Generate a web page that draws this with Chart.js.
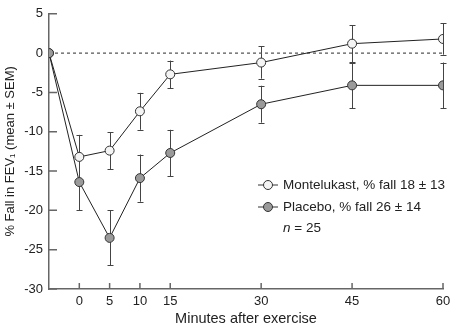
<!DOCTYPE html>
<html>
<head>
<meta charset="utf-8">
<script src="https://cdn.jsdelivr.net/npm/chart.js@4"></script>
<style>
  html, body { margin: 0; padding: 0; background: #fff; }
  #wrap { width: 450px; height: 328px; }
</style>
</head>
<body>
<div id="wrap"><canvas id="fev_chart"></canvas></div>
<script>
// minutes after exercise (-5 = pre-exercise baseline)
const minutes = [-5, 0, 5, 10, 15, 30, 45, 60];
const xTicks = [0, 5, 10, 15, 30, 45, 60];

const montelukast = [0, -13.2, -12.4, -7.4, -2.7, -1.2, 1.2, 1.8];
const montelukastSem = [0, 2.8, 2.35, 2.35, 1.75, 2.05, 2.35, 2.0];
const placebo = [0, -16.4, -23.5, -15.9, -12.7, -6.5, -4.1, -4.1];
const placeboSem = [0, 3.6, 3.5, 3.0, 2.95, 2.35, 2.9, 2.9];

const legendLabels = ['Montelukast, % fall 18 \u00b1 13', 'Placebo, % fall 26 \u00b1 14'];

const FONT = "'Liberation Sans', Arial, sans-serif";
const ctx = document.getElementById('fev_chart').getContext('2d');

Chart.defaults.font.family = FONT;
Chart.defaults.font.size = 13;
Chart.defaults.color = '#222';

const toPoints = vals => minutes.map((m, i) => ({x: m, y: vals[i]}));

// error bars, drawn under lines and points
const errorBars = {
    id: 'errorBars',
    beforeDatasetsDraw(chart) {
        const {ctx, scales: {x, y}} = chart;
        ctx.save();
        ctx.strokeStyle = '#444';
        ctx.lineWidth = 1;
        [[montelukast, montelukastSem], [placebo, placeboSem]].forEach(([vals, sem]) => {
            minutes.forEach((m, i) => {
                if (!sem[i]) return;
                const px = Math.round(x.getPixelForValue(m)) + 0.5;
                const top = y.getPixelForValue(vals[i] + sem[i]);
                const bot = y.getPixelForValue(vals[i] - sem[i]);
                ctx.beginPath();
                ctx.moveTo(px, top); ctx.lineTo(px, bot);
                ctx.moveTo(px - 3, Math.round(top) + 0.5); ctx.lineTo(px + 3, Math.round(top) + 0.5);
                ctx.moveTo(px - 3, Math.round(bot) + 0.5); ctx.lineTo(px + 3, Math.round(bot) + 0.5);
                ctx.stroke();
            });
        });
        ctx.restore();
    }
};

// inward tick marks + legend text
const extras = {
    id: 'extras',
    afterDraw(chart) {
        const {ctx, scales: {x, y}} = chart;
        ctx.save();
        ctx.strokeStyle = '#666';
        ctx.lineWidth = 1.5;
        ctx.beginPath();
        y.ticks.forEach(t => {
            const py = y.getPixelForValue(t.value);
            if (t.value === 0) return;
            ctx.moveTo(x.left, py); ctx.lineTo(x.left + 8, py);
        });
        x.ticks.forEach(t => {
            const px = x.getPixelForValue(t.value);
            ctx.moveTo(px, y.bottom); ctx.lineTo(px, y.bottom - 6);
        });
        ctx.stroke();

        // legend
        const lx = 268, tx = 283;
        const rows = [185, 207];
        const fills = ['#f4f4f4', '#9a9a9a'];
        ctx.textBaseline = 'middle';
        rows.forEach((ry, i) => {
            ctx.strokeStyle = '#333';
            ctx.lineWidth = 1;
            ctx.beginPath();
            ctx.moveTo(lx - 10, ry); ctx.lineTo(lx + 10, ry);
            ctx.stroke();
            ctx.beginPath();
            ctx.arc(lx, ry, 4.5, 0, Math.PI * 2);
            ctx.fillStyle = fills[i];
            ctx.fill();
            ctx.stroke();
            ctx.fillStyle = '#222';
            ctx.font = '13.5px ' + FONT;
            ctx.fillText(legendLabels[i], tx, ry);
        });
        ctx.font = 'italic 13.5px ' + FONT;
        ctx.fillText('n', tx, 228);
        const nw = ctx.measureText('n').width;
        ctx.font = '13.5px ' + FONT;
        ctx.fillText(' = 25', tx + nw, 228);
        ctx.restore();
    }
};

new Chart(ctx, {
    type: 'line',
    data: {
        datasets: [{
            label: 'zero',
            data: [{x: -5, y: 0}, {x: 60, y: 0}],
            borderColor: '#555',
            borderWidth: 1.2,
            borderDash: [3, 3],
            pointRadius: 0,
            order: 3
        }, {
            label: legendLabels[0],
            data: toPoints(montelukast),
            borderColor: '#222',
            borderWidth: 1,
            pointRadius: 4.5,
            pointBackgroundColor: '#f4f4f4',
            pointBorderColor: '#333',
            pointBorderWidth: 1,
            order: 2
        }, {
            label: legendLabels[1],
            data: toPoints(placebo),
            borderColor: '#222',
            borderWidth: 1,
            pointRadius: 4.5,
            pointBackgroundColor: '#9a9a9a',
            pointBorderColor: '#333',
            pointBorderWidth: 1,
            order: 1
        }]
    },
    options: {
        responsive: true,
        maintainAspectRatio: false,
        animation: false,
        layout: {
            padding: {left: 0, top: 13, right: 7, bottom: 0}
        },
        plugins: {
            legend: {display: false},
            tooltip: {enabled: false}
        },
        scales: {
            x: {
                type: 'linear',
                min: -5,
                max: 60,
                afterBuildTicks: s => { s.ticks = xTicks.map(v => ({value: v})); },
                afterFit: s => { s.height = 39; s.paddingRight = 0; s.paddingLeft = 0; },
                ticks: {
                    autoSkip: false,
                    maxRotation: 0,
                    padding: 5
                },
                grid: {display: true, drawOnChartArea: false, drawTicks: false},
                border: {color: '#666', width: 1.5},
                title: {
                    display: true,
                    text: 'Minutes after exercise',
                    font: {size: 14.5},
                    padding: {top: 4, bottom: 0}
                }
            },
            y: {
                min: -30,
                max: 5,
                afterFit: s => { s.width = 49; },
                ticks: {
                    stepSize: 5,
                    padding: 6
                },
                grid: {display: true, drawOnChartArea: false, drawTicks: false},
                border: {color: '#666', width: 1.5},
                title: {
                    display: true,
                    text: '% Fall in FEV\u2081 (mean \u00b1 SEM)',
                    padding: {top: 3, bottom: 0}
                }
            }
        }
    },
    plugins: [errorBars, extras]
});
</script>
</body>
</html>
